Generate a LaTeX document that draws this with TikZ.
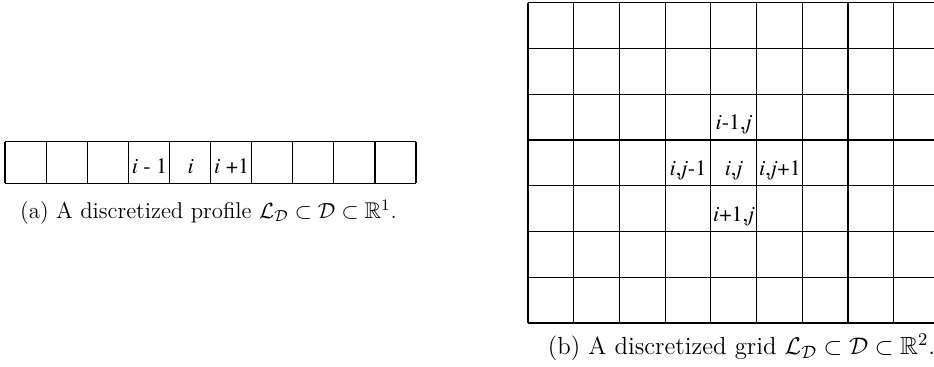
\documentclass[tikz,border=0pt]{standalone}
\usepackage{fontspec}
\usepackage{amssymb}
\newfontfamily\tnr{texgyretermes}[Extension=.otf,UprightFont=*-regular,ItalicFont=*-italic]
\begin{document}
\begin{tikzpicture}[x=0.5pt,y=-0.5pt,
  gridline/.style={line width=0.6pt, draw=black},
  lbl/.style={font=\tnr\fontsize{11}{13}\selectfont, anchor=base, inner sep=0pt},
  captext/.style={anchor=base, inner sep=0pt}]
\useasboundingbox (0,0) rectangle (934,366);
\clip (0,0) rectangle (934,366);
% 1D profile
\foreach \k in {0,...,10} \draw[gridline] ({5+41.1*\k},141.7) -- ({5+41.1*\k},183.3);
\draw[gridline] (5,141.7) -- (416,141.7);
\draw[gridline] (5,183.3) -- (416,183.3);
\node[lbl] (la) at (149.5,173) {\textit{i} - 1};
\node[lbl] (lb) at (190.6,173) {\textit{i}};
\node[lbl] (lc) at (231.7,173) {\textit{i} +1};
\node[captext, font=\fontsize{11.4}{13}\selectfont] (capa) at (208.5,218) {(a) A discretized profile $\mathcal{L}_{\mathcal{D}} \subset \mathcal{D} \subset \mathbb{R}^1$.};
% 2D grid
\foreach \k in {0,...,10} \draw[gridline] ({528+45.7*\k},2.7) -- ({528+45.7*\k},323);
\foreach \r in {0,...,7} \draw[gridline] (528,{2.7+45.76*\r}) -- (985,{2.7+45.76*\r});
\node[lbl] (gw) at (688,175) {\textit{i},\textit{j}-1};
\node[lbl] (gc) at (734,175) {\textit{i},\textit{j}};
\node[lbl] (ge) at (780,175) {\textit{i},\textit{j}+1};
\node[lbl] (gn) at (734,129) {\textit{i}-1,\textit{j}};
\node[lbl] (gs) at (734,221) {\textit{i}+1,\textit{j}};
\node[captext, font=\fontsize{12.4}{14}\selectfont] (capb) at (741.5,354) {(b) A discretized grid $\mathcal{L}_{\mathcal{D}} \subset \mathcal{D} \subset \mathbb{R}^2$.};
\end{tikzpicture}
\end{document}
